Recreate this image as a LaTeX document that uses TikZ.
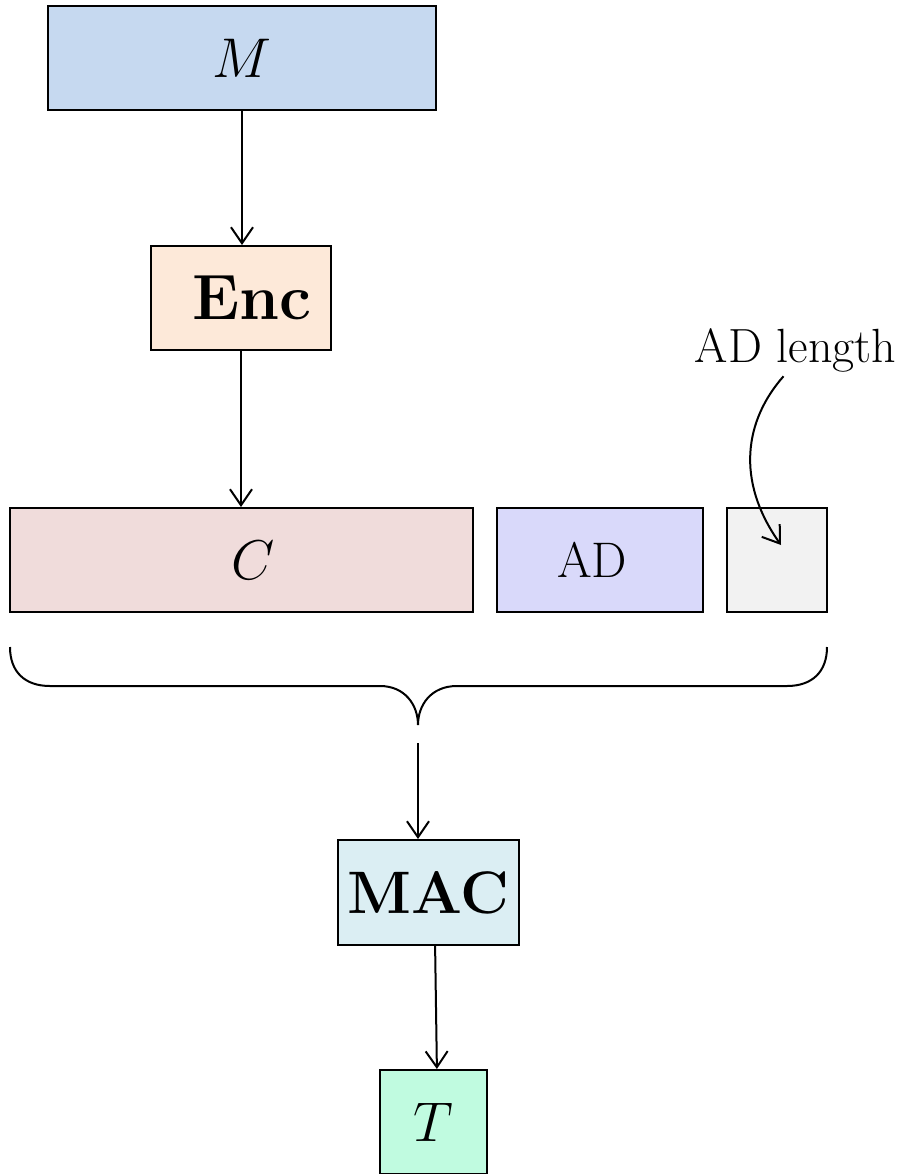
\RequirePackage{fix-cm}
\documentclass[tikz,border=0pt]{standalone}
\usepackage{amsmath,amssymb}
\usepackage{xcolor}
\usepackage{tikz}
\usetikzlibrary{shapes,arrows.meta,positioning,calc}

\definecolor{msgblue}{HTML}{C6D9F0}
\definecolor{encpeach}{HTML}{FDE9D9}
\definecolor{ctpink}{HTML}{F0DCDB}
\definecolor{adlav}{HTML}{D9D9FA}
\definecolor{lengray}{HTML}{F2F2F2}
\definecolor{macblue}{HTML}{DBEEF3}
\definecolor{tagmint}{HTML}{C0FBE0}

\begin{document}
\begin{tikzpicture}[
    x=0.5pt, y=-0.5pt,
    box/.style={draw, line width=1pt, inner sep=0pt, minimum height=52pt},
    flow/.style={-{Straight Barb[length=8pt,width=11pt]}, line width=1pt},
    bigmath/.style={font=\fontsize{28}{32}\selectfont},
    boldlbl/.style={font=\fontsize{32}{36}\selectfont\bfseries}
]
    \useasboundingbox (0,0) rectangle (908,1174);

    % Message and encryption
    \node[box, fill=msgblue, minimum width=194pt, bigmath] (m) at (242,58) {$M$};
    \node[box, fill=encpeach, minimum width=90pt, boldlbl] (enc) at (241,298) {\hspace*{11pt}Enc};

    % Ciphertext, associated data and its length
    \node[box, fill=ctpink, minimum width=231.5pt, bigmath] (c) at (241.5,560) {\hspace*{12pt}$C$};
    \node[box, fill=adlav, minimum width=103pt, font=\fontsize{25}{30}\selectfont] (ad) at (600,560) {AD\hspace*{8pt}};
    \node[box, fill=lengray, minimum width=50pt] (len) at (777,560) {};
    \node[font=\fontsize{24}{28}\selectfont, inner sep=2pt] (adlen) at (795.5,350) {AD length};
    \coordinate (lenend) at (781,545);

    % MAC and tag
    \node[box, fill=macblue, minimum width=90.5pt, minimum height=52.5pt, font=\fontsize{30}{34}\selectfont\bfseries] (mac) at (428.5,892.5) {MAC};
    \node[box, fill=tagmint, minimum width=53.5pt, bigmath] (t) at (433.5,1122) {$T$};

    % Arrows
    \draw[flow] (m.south) -- (m.south |- enc.north);
    \draw[flow] (enc.south) -- (enc.south |- c.north);
    \draw[flow] ([xshift=-6pt]adlen.south) .. controls (745,420) and (735,480) .. (lenend);

    % Brace over C, AD and length
    \draw[line width=1pt] (10,647) .. controls (10,672) and (25,686) .. (50,686) -- (380,686)
        .. controls (405,686) and (418,705) .. (418,725)
        .. controls (418,705) and (431,686) .. (457,686) -- (787,686)
        .. controls (812,686) and (827,672) .. (827,647);
    \coordinate (bracetip) at (418,743);
    \draw[flow] (bracetip) -- (bracetip |- mac.north);
    \draw[flow] ([xshift=3.3pt]mac.south) -- ([xshift=1.7pt]t.north);
\end{tikzpicture}
\end{document}
